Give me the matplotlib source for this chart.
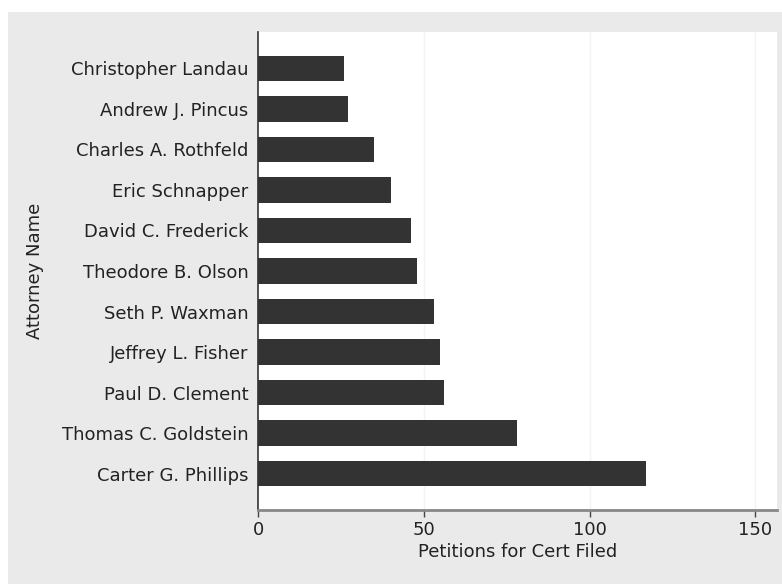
import matplotlib
matplotlib.use("Agg")
import matplotlib.pyplot as plt
from matplotlib.patches import Rectangle

attorneys = ["Carter G. Phillips", "Thomas C. Goldstein", "Paul D. Clement",
             "Jeffrey L. Fisher", "Seth P. Waxman", "Theodore B. Olson",
             "David C. Frederick", "Eric Schnapper", "Charles A. Rothfeld",
             "Andrew J. Pincus", "Christopher Landau"]
petitions = [117, 78, 56, 55, 53, 48, 46, 40, 35, 27, 26]
x_ticks = [0, 50, 100, 150]
x_label = "Petitions for Cert Filed"
y_label = "Attorney Name"

plt.rcParams['font.family'] = ['DejaVu Sans']

fig = plt.figure(figsize=(7.82, 5.85), dpi=100)
fig.patch.set_facecolor('white')
fig.patches.append(Rectangle((8/782, 1/585), 1 - 8/782, 1 - 13/585,
                             transform=fig.transFigure, facecolor='#eaeaea',
                             edgecolor='none', zorder=-10))

ax = fig.add_axes([258/782, 1 - 510/585, (777 - 258)/782, (510 - 32)/585])
ax.set_zorder(5)
ax.set_facecolor('white')
ypos = list(range(len(attorneys)))
ax.barh(ypos, petitions, height=0.62, color='#333333', zorder=3)

ax.set_xlim(0, 156.5)
ax.set_ylim(-0.9, len(attorneys) - 0.1)
ax.set_xticks(x_ticks)
ax.set_xticklabels([str(t) for t in x_ticks], fontsize=13, color='#222222')
ax.set_yticks(ypos)
ax.set_yticklabels(attorneys, fontsize=13, color='#222222')
ax.tick_params(axis='y', length=0, pad=7)
ax.tick_params(axis='x', length=5, width=1, color='#444444', pad=3)

for g in x_ticks[1:]:
    ax.axvline(g, color='#f3f3f3', lw=1, zorder=1)

for s in ['top', 'right']:
    ax.spines[s].set_visible(False)
ax.spines['left'].set_color('#333333')
ax.spines['left'].set_linewidth(1.2)
ax.spines['bottom'].set_color('#888888')
ax.spines['bottom'].set_linewidth(2)

ax.set_xlabel(x_label, fontsize=13, color='#222222', labelpad=3)
fig.text(35/782, 1 - 271/585, y_label, rotation=90, fontsize=13,
         color='#222222', ha='center', va='center')

fig.savefig("out.png", dpi=100, facecolor=fig.get_facecolor())
